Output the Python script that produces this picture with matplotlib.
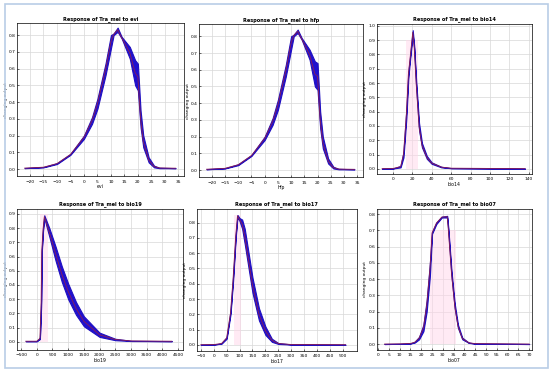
import numpy as np
import matplotlib.pyplot as plt
from matplotlib.patches import Rectangle

# response curves: x, lower and upper edge of the band
evi_x = [-22, -15, -10, -5, 0, 3, 5, 8, 10, 11, 12.5, 14, 17, 19, 20, 21, 22, 24, 26, 28, 34]
evi_hi = [0.006, 0.012, 0.035, 0.09, 0.2, 0.31, 0.42, 0.63, 0.80, 0.81, 0.845, 0.79, 0.73, 0.65, 0.63, 0.35, 0.2, 0.07, 0.02, 0.008, 0.005]
evi_lo = [0.005, 0.01, 0.03, 0.085, 0.18, 0.27, 0.36, 0.56, 0.72, 0.80, 0.82, 0.78, 0.66, 0.50, 0.47, 0.25, 0.13, 0.04, 0.01, 0.005, 0.005]

hfp_x = [-22, -15, -10, -5, 0, 3, 5, 8, 10, 11, 12.5, 14, 17, 19, 20, 21, 22, 24, 26, 28, 34]
hfp_hi = [0.006, 0.012, 0.035, 0.09, 0.2, 0.31, 0.42, 0.63, 0.80, 0.81, 0.84, 0.79, 0.72, 0.65, 0.64, 0.35, 0.2, 0.07, 0.02, 0.008, 0.005]
hfp_lo = [0.005, 0.01, 0.03, 0.085, 0.18, 0.27, 0.36, 0.56, 0.72, 0.80, 0.82, 0.78, 0.66, 0.50, 0.48, 0.25, 0.13, 0.04, 0.01, 0.005, 0.005]

b14_x = [-11, 0, 8, 11, 14, 16, 18, 20.5, 22, 24, 27, 30, 35, 40, 50, 60, 136]
b14_hi = [0.001, 0.002, 0.02, 0.12, 0.42, 0.68, 0.8, 0.97, 0.86, 0.62, 0.32, 0.18, 0.09, 0.045, 0.014, 0.005, 0.001]
b14_lo = [0.001, 0.002, 0.01, 0.08, 0.36, 0.64, 0.78, 0.94, 0.84, 0.58, 0.27, 0.15, 0.07, 0.035, 0.01, 0.004, 0.001]

b19_x = [-350, 0, 100, 140, 160, 200, 240, 400, 600, 800, 1000, 1250, 1500, 2000, 2500, 3000, 4300]
b19_hi = [0.005, 0.005, 0.03, 0.3, 0.65, 0.8, 0.89, 0.8, 0.67, 0.53, 0.41, 0.28, 0.18, 0.065, 0.022, 0.008, 0.005]
b19_lo = [0.005, 0.005, 0.02, 0.25, 0.63, 0.78, 0.87, 0.74, 0.57, 0.42, 0.30, 0.19, 0.11, 0.035, 0.012, 0.006, 0.005]

b17_x = [-50, 0, 30, 50, 65, 75, 85, 92, 100, 110, 120, 135, 150, 175, 200, 225, 250, 300, 510]
b17_hi = [0.001, 0.002, 0.01, 0.05, 0.22, 0.45, 0.72, 0.85, 0.83, 0.82, 0.76, 0.6, 0.44, 0.24, 0.12, 0.04, 0.012, 0.003, 0.001]
b17_lo = [0.001, 0.002, 0.008, 0.04, 0.2, 0.42, 0.7, 0.84, 0.81, 0.76, 0.66, 0.5, 0.34, 0.16, 0.065, 0.02, 0.006, 0.002, 0.001]

b07_x = [3, 10, 15, 17, 19, 21, 22.5, 24, 25, 27, 29.5, 32, 32.5, 34, 35.5, 37, 39, 42, 45, 70]
b07_hi = [0.001, 0.002, 0.005, 0.015, 0.045, 0.12, 0.27, 0.5, 0.69, 0.75, 0.785, 0.79, 0.72, 0.45, 0.25, 0.12, 0.04, 0.01, 0.004, 0.001]
b07_lo = [0.001, 0.002, 0.004, 0.01, 0.03, 0.08, 0.2, 0.42, 0.68, 0.74, 0.78, 0.78, 0.7, 0.42, 0.22, 0.1, 0.03, 0.008, 0.003, 0.001]

names = ["evi", "hfp", "bio14", "bio19", "bio17", "bio07"]
curves = [(evi_x, evi_lo, evi_hi), (hfp_x, hfp_lo, hfp_hi), (b14_x, b14_lo, b14_hi),
          (b19_x, b19_lo, b19_hi), (b17_x, b17_lo, b17_hi), (b07_x, b07_lo, b07_hi)]
xticks = [np.arange(-20, 36, 5), np.arange(-20, 36, 5), np.arange(0, 141, 20),
          np.arange(-500, 4501, 500), np.arange(-50, 501, 50), np.arange(0, 71, 5)]
yticks = [np.arange(0, 0.81, 0.1), np.arange(0, 0.81, 0.1), np.arange(0, 1.01, 0.1),
          np.arange(0, 0.91, 0.1), np.arange(0, 0.81, 0.1), np.arange(0, 0.81, 0.1)]
xlims = [(-24.8, 37.2), (-24.8, 37.2), (-16.5, 143), (-627, 4660), (-65, 554), (-0.6, 71.2)]
ylims = [(-0.042, 0.872), (-0.042, 0.872), (-0.035, 1.014), (-0.056, 0.935), (-0.04, 0.89), (-0.035, 0.833)]
# faint pink shading behind the peak
spans = [None, None, (14, 26, 0.9), (100, 350, 0.9), (80, 105, 0.85), (24, 36, 0.7)]

boxes = [[0.031, 0.528, 0.304, 0.41], [0.362, 0.525, 0.298, 0.41], [0.685, 0.534, 0.282, 0.402],
         [0.031, 0.062, 0.302, 0.378], [0.358, 0.059, 0.291, 0.381], [0.685, 0.062, 0.282, 0.378]]

fig = plt.figure(figsize=(5.5, 3.73), dpi=100)
fig.patches.append(Rectangle((0.009, 0.013), 0.988, 0.975, transform=fig.transFigure,
                             fill=False, ec="#b9cde6", lw=1.2))

for i in range(6):
    ax = fig.add_axes(boxes[i])
    x, lo, hi = curves[i]
    lo = np.array(lo)
    hi = np.array(hi)
    if spans[i] is not None:
        a, b, h = spans[i]
        ax.fill_between([a, b], 0, h, color="#ffd6ea", alpha=0.5, lw=0)
    ax.fill_between(x, lo, hi, color="#2010d0", lw=0.8, edgecolor="#2010c0")
    ax.plot(x, (lo + hi) / 2, color="#8a1f55", lw=0.6)
    ax.set_xlim(xlims[i])
    ax.set_ylim(ylims[i])
    ax.set_xticks(xticks[i])
    ax.set_yticks(yticks[i])
    ax.set_yticklabels(["%.1f" % v for v in yticks[i]])
    ax.grid(True, color="#d8d8d8", lw=0.5)
    ax.set_axisbelow(True)
    ax.tick_params(labelsize=3.2, length=1.5, width=0.4, pad=1.0, direction="in")
    ax.tick_params(axis="x", pad=2.5)
    for s in ax.spines.values():
        s.set_linewidth(0.5)
    ax.set_title("Response of Tra_mel to " + names[i], fontsize=3.6, fontweight="bold", pad=2.5)
    ax.set_xlabel(names[i], fontsize=3.3, labelpad=0.5)
    ax.set_ylabel("changing output", fontsize=3.2)
    # label sits just left of the tick labels
    ax.yaxis.set_label_coords(-9.5 / (boxes[i][2] * 550), 0.5)

fig.savefig("out.png", dpi=100)
